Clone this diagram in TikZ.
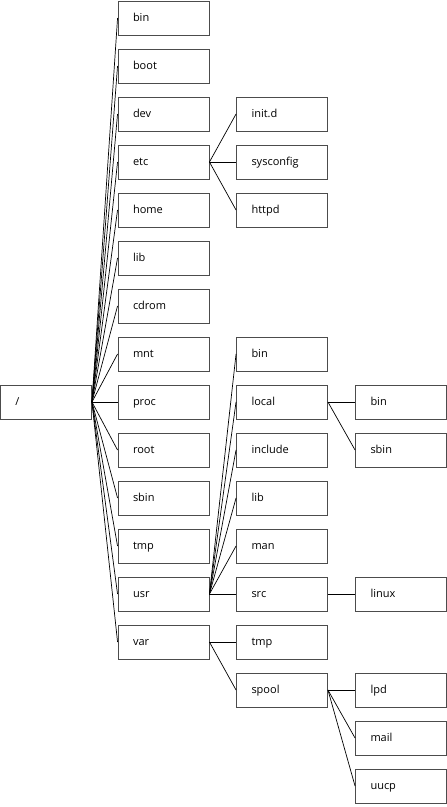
\documentclass[tikz,border=0pt]{standalone}
\usepackage{fontspec}
\setmainfont{Open Sans}
\begin{document}
\begin{tikzpicture}[x=1pt,y=-1pt,
  dirbox/.style={draw=black!70, line width=0.9pt, fill=white, rectangle,
    minimum width=91pt, minimum height=34pt, text width=61pt, inner xsep=15pt,
    inner ysep=0pt, align=left, text height=7.5pt, text depth=0.5pt,
    font=\fontsize{11pt}{12pt}\selectfont},
  link/.style={draw=black, line width=0.7pt}]
\useasboundingbox (0,0) rectangle (447,807);
% root
\node[dirbox, minimum width=90pt] (r) at (46,402) {/};
% column 1
\foreach \n/\t [count=\k from 0] in {bin/bin,boot/boot,dev/dev,etc/etc,home/home,lib/lib,cdrom/cdrom,mnt/mnt,proc/proc,root/root,sbin/sbin,tmp/tmp,usr/usr,var/var}
  \node[dirbox] (\n) at (163.5,{18+48*\k}) {\t};
% column 2
\node[dirbox] (initd) at (282,{18+48*2}) {init.d};
\node[dirbox] (sysconfig) at (282,{18+48*3}) {sysconfig};
\node[dirbox] (httpd) at (282,{18+48*4}) {httpd};
\node[dirbox] (ubin) at (282,{18+48*7}) {bin};
\node[dirbox] (local) at (282,{18+48*8}) {local};
\node[dirbox] (include) at (282,{18+48*9}) {include};
\node[dirbox] (ulib) at (282,{18+48*10}) {lib};
\node[dirbox] (man) at (282,{18+48*11}) {man};
\node[dirbox] (src) at (282,{18+48*12}) {src};
\node[dirbox] (vtmp) at (282,{18+48*13}) {tmp};
\node[dirbox] (spool) at (282,{18+48*14}) {spool};
% column 3
\node[dirbox] (lbin) at (401,{18+48*8}) {bin};
\node[dirbox] (lsbin) at (401,{18+48*9}) {sbin};
\node[dirbox] (linux) at (401,{18+48*12}) {linux};
\node[dirbox] (lpd) at (401,{18+48*14}) {lpd};
\node[dirbox] (mail) at (401,{18+48*15}) {mail};
\node[dirbox] (uucp) at (401,{18+48*16}) {uucp};
% connectors
\foreach \c in {bin,boot,dev,etc,home,lib,cdrom,mnt,proc,root,sbin,tmp,usr,var}
  \draw[link] (r.east) -- (\c.west);
\foreach \c in {initd,sysconfig,httpd}
  \draw[link] (etc.east) -- (\c.west);
\foreach \c in {ubin,local,include,ulib,man,src}
  \draw[link] (usr.east) -- (\c.west);
\foreach \c in {vtmp,spool}
  \draw[link] (var.east) -- (\c.west);
\foreach \c in {lbin,lsbin}
  \draw[link] (local.east) -- (\c.west);
\draw[link] (src.east) -- (linux.west);
\foreach \c in {lpd,mail,uucp}
  \draw[link] (spool.east) -- (\c.west);
\end{tikzpicture}
\end{document}
